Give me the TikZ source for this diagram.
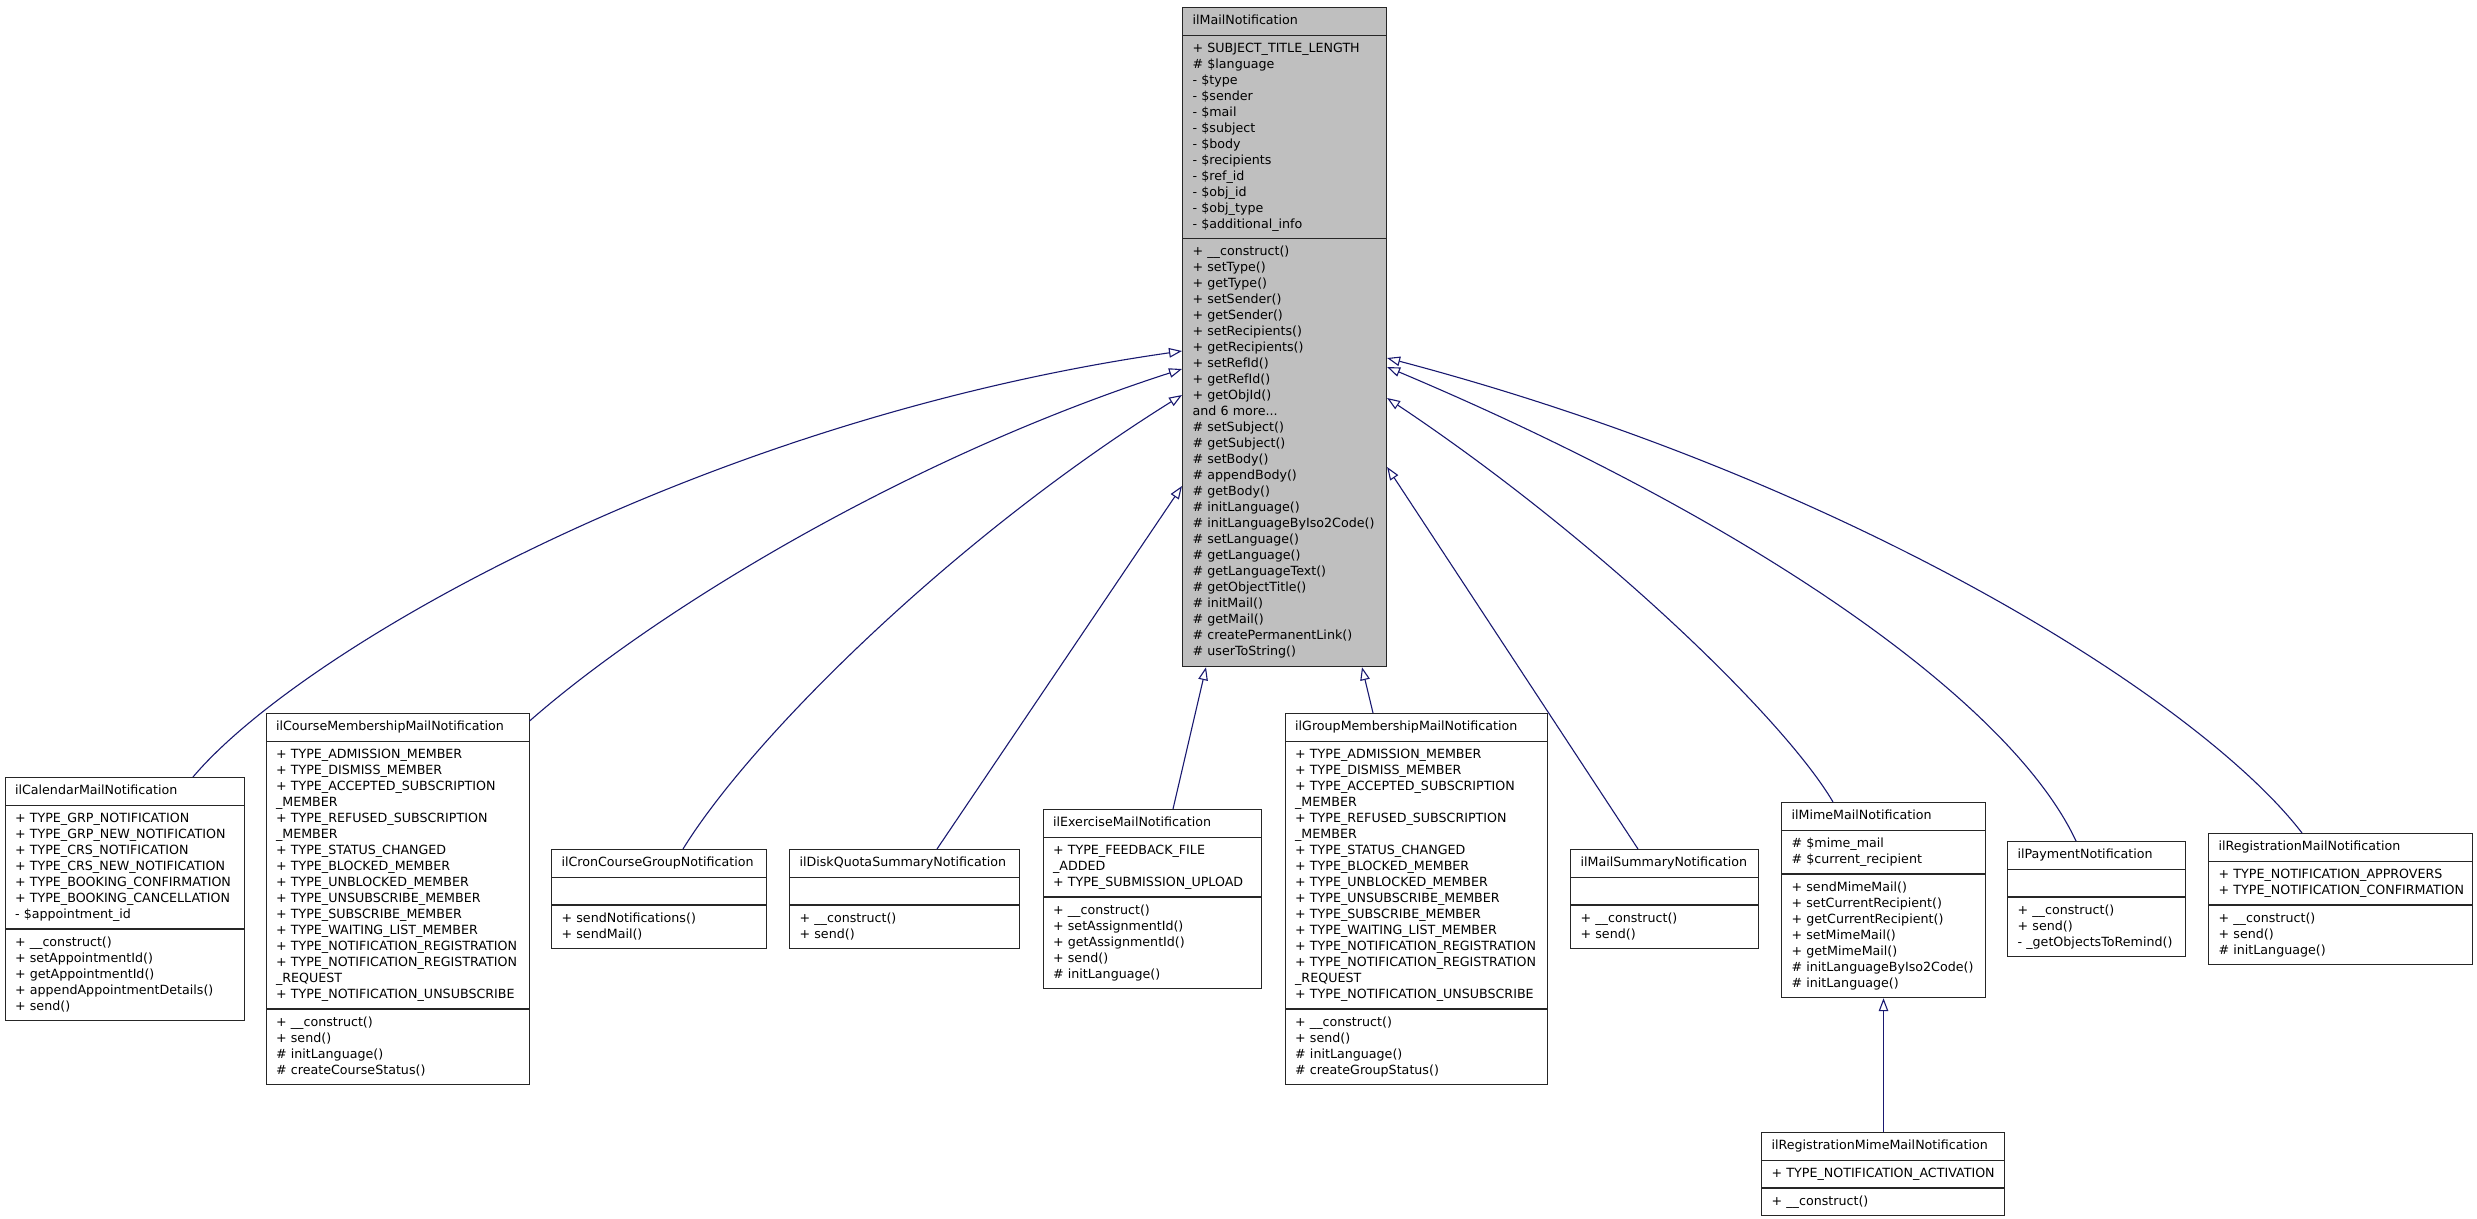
\documentclass[tikz,border=0pt]{standalone}
\usepackage{fontspec}
\setmainfont{DejaVu Sans}
\usetikzlibrary{shapes.multipart,arrows.meta}
\definecolor{edgeblue}{HTML}{191970}
\definecolor{basegray}{HTML}{BFBFBF}
\newcommand\umlfont{\fontsize{6.33}{8}\selectfont}
\newcommand\mpub[1]{\strut+~#1}
\newcommand\mpro[1]{\strut\#~#1}
\newcommand\mpri[1]{\strut-~#1}
\newcommand\mtxt[1]{\strut#1}
\newcommand\mhead[1]{\centering\strut#1}
\newcommand\memberattrs{%
\mpub{TYPE\_ADMISSION\_MEMBER}\\
\mpub{TYPE\_DISMISS\_MEMBER}\\
\mpub{TYPE\_ACCEPTED\_SUBSCRIPTION}\\
\mtxt{\_MEMBER}\\
\mpub{TYPE\_REFUSED\_SUBSCRIPTION}\\
\mtxt{\_MEMBER}\\
\mpub{TYPE\_STATUS\_CHANGED}\\
\mpub{TYPE\_BLOCKED\_MEMBER}\\
\mpub{TYPE\_UNBLOCKED\_MEMBER}\\
\mpub{TYPE\_UNSUBSCRIBE\_MEMBER}\\
\mpub{TYPE\_SUBSCRIBE\_MEMBER}\\
\mpub{TYPE\_WAITING\_LIST\_MEMBER}\\
\mpub{TYPE\_NOTIFICATION\_REGISTRATION}\\
\mpub{TYPE\_NOTIFICATION\_REGISTRATION}\\
\mtxt{\_REQUEST}\\
\mpub{TYPE\_NOTIFICATION\_UNSUBSCRIBE}}
\tikzset{
  cls/.style={rectangle split, rectangle split parts=3, draw=black!85, fill=white,
    line width=0.55pt, inner xsep=5pt, inner ysep=2.65pt, anchor=north west,
    align=left, font=\umlfont, text width=#1},
  basecls/.style={fill=basegray},
  inh/.style={draw=edgeblue, line width=0.55pt,
    -{Triangle[open, length=6.5pt, width=4.8pt]}},
}
\begin{document}
\begin{tikzpicture}[x=0.5pt, y=-0.5pt]
\useasboundingbox (0,0) rectangle (2477,1219);

\node[cls=92pt, basecls] (main) at (1182,7) {\mhead{ilMailNotification}
\nodepart{two}
\mpub{SUBJECT\_TITLE\_LENGTH}\\
\mpro{\$language}\\
\mpri{\$type}\\
\mpri{\$sender}\\
\mpri{\$mail}\\
\mpri{\$subject}\\
\mpri{\$body}\\
\mpri{\$recipients}\\
\mpri{\$ref\_id}\\
\mpri{\$obj\_id}\\
\mpri{\$obj\_type}\\
\mpri{\$additional\_info}
\nodepart{three}
\mpub{\_\_construct()}\\
\mpub{setType()}\\
\mpub{getType()}\\
\mpub{setSender()}\\
\mpub{getSender()}\\
\mpub{setRecipients()}\\
\mpub{getRecipients()}\\
\mpub{setRefId()}\\
\mpub{getRefId()}\\
\mpub{getObjId()}\\
\mtxt{and 6 more...}\\
\mpro{setSubject()}\\
\mpro{getSubject()}\\
\mpro{setBody()}\\
\mpro{appendBody()}\\
\mpro{getBody()}\\
\mpro{initLanguage()}\\
\mpro{initLanguageByIso2Code()}\\
\mpro{setLanguage()}\\
\mpro{getLanguage()}\\
\mpro{getLanguageText()}\\
\mpro{getObjectTitle()}\\
\mpro{initMail()}\\
\mpro{getMail()}\\
\mpro{createPermanentLink()}\\
\mpro{userToString()}};

\node[cls=109.5pt] (cal) at (4.5,777) {\mhead{ilCalendarMailNotification}
\nodepart{two}
\mpub{TYPE\_GRP\_NOTIFICATION}\\
\mpub{TYPE\_GRP\_NEW\_NOTIFICATION}\\
\mpub{TYPE\_CRS\_NOTIFICATION}\\
\mpub{TYPE\_CRS\_NEW\_NOTIFICATION}\\
\mpub{TYPE\_BOOKING\_CONFIRMATION}\\
\mpub{TYPE\_BOOKING\_CANCELLATION}\\
\mpri{\$appointment\_id}
\nodepart{three}
\mpub{\_\_construct()}\\
\mpub{setAppointmentId()}\\
\mpub{getAppointmentId()}\\
\mpub{appendAppointmentDetails()}\\
\mpub{send()}};

\node[cls=121.5pt] (course) at (265.5,713) {\mhead{ilCourseMembershipMailNotification}
\nodepart{two}
\memberattrs
\nodepart{three}
\mpub{\_\_construct()}\\
\mpub{send()}\\
\mpro{initLanguage()}\\
\mpro{createCourseStatus()}};

\node[cls=97.5pt] (cron) at (551,849) {\mhead{ilCronCourseGroupNotification}
\nodepart{two}\strut
\nodepart{three}
\mpub{sendNotifications()}\\
\mpub{sendMail()}};

\node[cls=105pt] (disk) at (789,849) {\mhead{ilDiskQuotaSummaryNotification}
\nodepart{two}\strut
\nodepart{three}
\mpub{\_\_construct()}\\
\mpub{send()}};

\node[cls=99.25pt] (ex) at (1042.5,809) {\mhead{ilExerciseMailNotification}
\nodepart{two}
\mpub{TYPE\_FEEDBACK\_FILE}\\
\mtxt{\_ADDED}\\
\mpub{TYPE\_SUBMISSION\_UPLOAD}
\nodepart{three}
\mpub{\_\_construct()}\\
\mpub{setAssignmentId()}\\
\mpub{getAssignmentId()}\\
\mpub{send()}\\
\mpro{initLanguage()}};

\node[cls=121.2pt] (grp) at (1284.6,713) {\mhead{ilGroupMembershipMailNotification}
\nodepart{two}
\memberattrs
\nodepart{three}
\mpub{\_\_construct()}\\
\mpub{send()}\\
\mpro{initLanguage()}\\
\mpro{createGroupStatus()}};

\node[cls=84pt] (sum) at (1570,849) {\mhead{ilMailSummaryNotification}
\nodepart{two}\strut
\nodepart{three}
\mpub{\_\_construct()}\\
\mpub{send()}};

\node[cls=92pt] (mime) at (1781,802) {\mhead{ilMimeMailNotification}
\nodepart{two}
\mpro{\$mime\_mail}\\
\mpro{\$current\_recipient}
\nodepart{three}
\mpub{sendMimeMail()}\\
\mpub{setCurrentRecipient()}\\
\mpub{getCurrentRecipient()}\\
\mpub{setMimeMail()}\\
\mpub{getMimeMail()}\\
\mpro{initLanguageByIso2Code()}\\
\mpro{initLanguage()}};

\node[cls=79pt] (pay) at (2007,841) {\mhead{ilPaymentNotification}
\nodepart{two}\strut
\nodepart{three}
\mpub{\_\_construct()}\\
\mpub{send()}\\
\mpri{\_getObjectsToRemind()}};

\node[cls=122pt] (regm) at (2208,833) {\mhead{ilRegistrationMailNotification}
\nodepart{two}
\mpub{TYPE\_NOTIFICATION\_APPROVERS}\\
\mpub{TYPE\_NOTIFICATION\_CONFIRMATION}
\nodepart{three}
\mpub{\_\_construct()}\\
\mpub{send()}\\
\mpro{initLanguage()}};

\node[cls=111.5pt] (regmime) at (1761,1132) {\mhead{ilRegistrationMimeMailNotification}
\nodepart{two}
\mpub{TYPE\_NOTIFICATION\_ACTIVATION}
\nodepart{three}
\mpub{\_\_construct()}};

% inheritance connectors
\draw[inh] (193,0 |- cal.north) .. controls (300,650) and (700,420) .. (main.west |- 0,351);
\draw[inh] (course.east |- 0,721) .. controls (650,615) and (900,460) .. (main.west |- 0,369);
\draw[inh] (683,0 |- cron.north) .. controls (750,740) and (950,540) .. (main.west |- 0,395);
\draw[inh] (937,0 |- disk.north) -- (main.west |- 0,486);
\draw[inh] (1173,0 |- ex.north) -- (1206,0 |- main.south);
\draw[inh] (1373,0 |- grp.north) -- (1362,0 |- main.south);
\draw[inh] (1638,0 |- sum.north) -- (main.east |- 0,467);
\draw[inh] (1833,0 |- mime.north) .. controls (1785,720) and (1600,540) .. (main.east |- 0,398);
\draw[inh] (2076,0 |- pay.north) .. controls (2010,700) and (1750,520) .. (main.east |- 0,367);
\draw[inh] (2302,0 |- regm.north) .. controls (2200,700) and (1850,480) .. (main.east |- 0,358);
\draw[inh] (1883.5,0 |- regmime.north) -- (1883.5,0 |- mime.south);
\end{tikzpicture}
\end{document}
